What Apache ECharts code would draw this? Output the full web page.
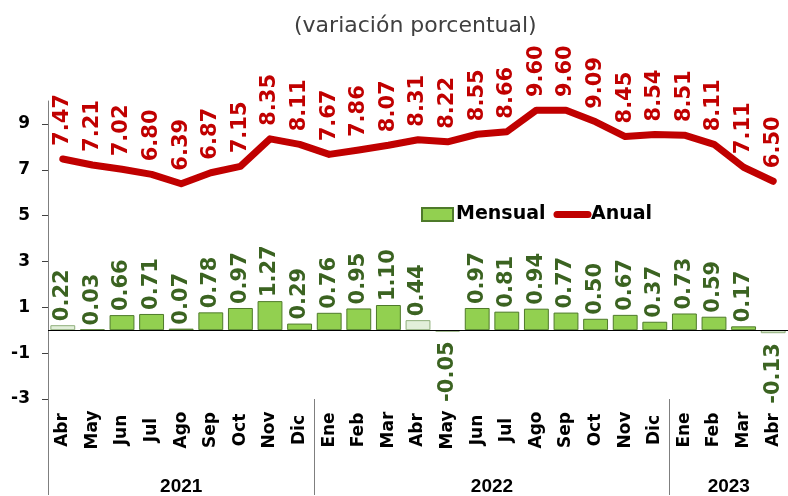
<!DOCTYPE html>
<html>
<head>
<meta charset="utf-8">
<script src="https://cdn.jsdelivr.net/npm/echarts@6/dist/echarts.min.js"></script>
<style>
  html, body { margin: 0; padding: 0; background: #fff; }
  #chart { width: 788px; height: 496px; }
</style>
</head>
<body>
<div id="chart"></div>
<script>
// meses y años
var months = ['Abr', 'May', 'Jun', 'Jul', 'Ago', 'Sep', 'Oct', 'Nov', 'Dic',
  'Ene', 'Feb', 'Mar', 'Abr', 'May', 'Jun', 'Jul', 'Ago', 'Sep', 'Oct', 'Nov', 'Dic',
  'Ene', 'Feb', 'Mar', 'Abr'];
var years = ['2021', '2022', '2023'];
var monthsPerYear = [9, 12, 4];

// variación mensual y anual
var mensual = [0.22, 0.03, 0.66, 0.71, 0.07, 0.78, 0.97, 1.27, 0.29,
  0.76, 0.95, 1.10, 0.44, -0.05, 0.97, 0.81, 0.94, 0.77, 0.50, 0.67, 0.37,
  0.73, 0.59, 0.17, -0.13];
var anual = [7.47, 7.21, 7.02, 6.80, 6.39, 6.87, 7.15, 8.35, 8.11,
  7.67, 7.86, 8.07, 8.31, 8.22, 8.55, 8.66, 9.60, 9.60, 9.09, 8.45, 8.54,
  8.51, 8.11, 7.11, 6.50];

var yTicks = [-3, -1, 1, 3, 5, 7, 9];

var fontBold = 'DejaVu Sans';

// límites y centros de cada año (en unidades de categoría)
var bounds = [0];
var centers = [];
monthsPerYear.forEach(function (n, i) {
  centers.push(bounds[i] + n / 2);
  bounds.push(bounds[i] + n);
});

var barData = mensual.map(function (v, i) {
  var item = { value: v };
  if (months[i] === 'Abr') {
    item.itemStyle = { color: '#E2EFDA', borderColor: '#8FAE7A' };
  }
  if (v < 0) {
    item.label = { position: 'bottom', align: 'right', distance: 10 };
  }
  return item;
});

var myChart = echarts.init(document.getElementById('chart'));
myChart.setOption({
  animation: false,
  title: {
    text: '(variación porcentual)',
    left: 289,
    top: 10,
    textStyle: { fontFamily: 'DejaVu Sans', fontWeight: 'normal', fontSize: 22, color: '#404040' }
  },
  legend: {
    left: 416,
    top: 200,
    itemWidth: 31,
    itemHeight: 13,
    itemGap: 8,
    textStyle: { fontFamily: fontBold, fontWeight: 'bold', fontSize: 19, color: '#000', padding: [0, 0, 0, -2] },
    data: [
      { name: 'Mensual', icon: 'rect' },
      { name: 'Anual', itemStyle: { opacity: 0 }, lineStyle: { width: 7, cap: 'round', color: '#C00000' } }
    ]
  },
  grid: { left: 48, right: 0, top: 101, bottom: 96, containLabel: false },
  xAxis: [
    {
      type: 'category',
      data: months,
      axisLine: { show: false, onZero: false },
      axisTick: { show: false },
      axisLabel: {
        interval: 0,
        rotate: 90,
        align: 'center',
        verticalAlign: 'middle',
        margin: 31,
        fontFamily: fontBold,
        fontWeight: 'bold',
        fontSize: 17,
        color: '#000'
      }
    },
    {
      type: 'value',
      min: 0,
      max: months.length,
      position: 'bottom',
      splitLine: { show: false },
      axisLine: { show: false, onZero: false },
      axisTick: {
        customValues: bounds.slice(0, bounds.length - 1),
        length: 96,
        lineStyle: { color: '#7f7f7f', width: 1 }
      },
      axisLabel: {
        customValues: centers,
        margin: 78,
        formatter: function (v) {
          var i = centers.indexOf(v);
          return i >= 0 ? years[i] : '';
        },
        fontFamily: 'Liberation Sans',
        fontWeight: 'bold',
        fontSize: 19,
        color: '#000'
      }
    }
  ],
  yAxis: {
    type: 'value',
    min: -3,
    max: 10,
    interval: 2,
    splitLine: { show: false },
    axisLine: { show: true, lineStyle: { color: '#7f7f7f', width: 1 } },
    axisTick: { show: true, length: 6, customValues: yTicks, lineStyle: { color: '#404040' } },
    axisLabel: {
      customValues: yTicks,
      margin: 18,
      fontFamily: fontBold,
      fontWeight: 'bold',
      fontSize: 17,
      color: '#000'
    }
  },
  series: [
    {
      name: 'Mensual',
      type: 'bar',
      data: barData,
      barCategoryGap: '16%',
      itemStyle: { color: '#92D050', borderColor: '#4E7A2A', borderWidth: 1 },
      label: {
        show: true,
        position: 'top',
        rotate: 90,
        align: 'left',
        verticalAlign: 'middle',
        distance: 4,
        formatter: function (p) { return p.value.toFixed(2); },
        fontFamily: fontBold,
        fontWeight: 'bold',
        fontSize: 21,
        color: '#3B6321'
      },
      markLine: {
        silent: true,
        symbol: 'none',
        label: { show: false },
        lineStyle: { color: '#000', width: 1, type: 'solid' },
        data: [{ yAxis: 0 }]
      },
      z: 2
    },
    {
      name: 'Anual',
      type: 'line',
      data: anual,
      symbol: 'circle',
      symbolSize: 0.1,
      showSymbol: true,
      lineStyle: { color: '#C00000', width: 7, cap: 'round', join: 'round' },
      itemStyle: { color: '#C00000' },
      label: {
        show: true,
        position: 'top',
        rotate: 90,
        align: 'left',
        verticalAlign: 'middle',
        distance: 13,
        formatter: function (p) { return p.value.toFixed(2); },
        fontFamily: fontBold,
        fontWeight: 'bold',
        fontSize: 21,
        color: '#C00000'
      },
      labelLayout: { hideOverlap: false },
      z: 3
    }
  ]
});
</script>
</body>
</html>
